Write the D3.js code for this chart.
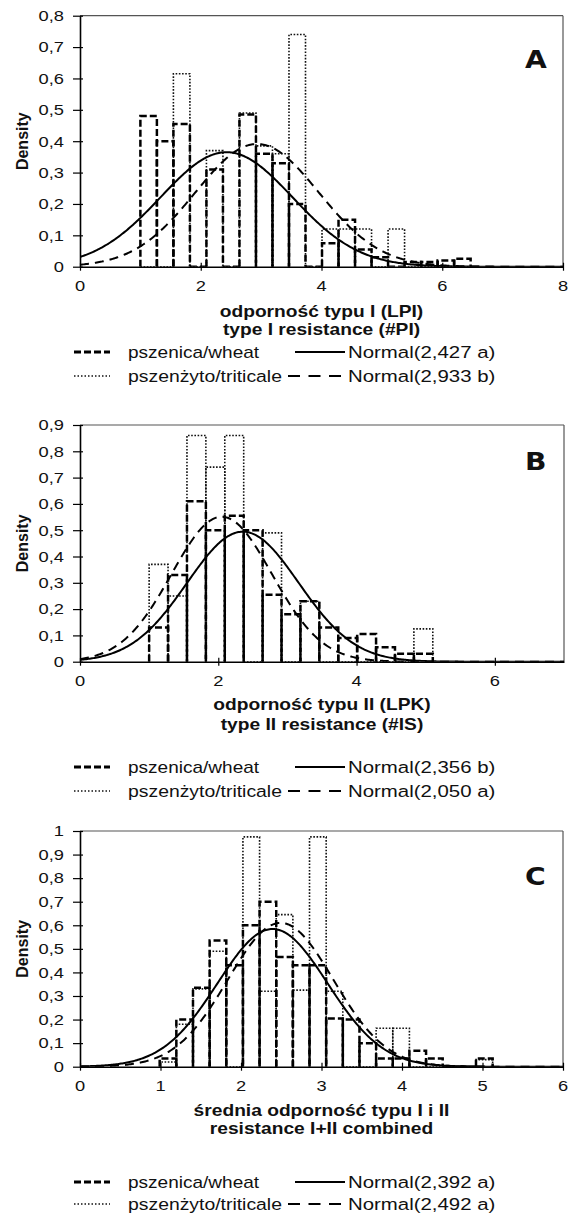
<!DOCTYPE html>
<html><head><meta charset="utf-8">
<script src="https://cdn.jsdelivr.net/npm/d3@7/dist/d3.min.js"></script>
<style>body{margin:0;background:#fff}svg{display:block}</style>
</head><body>
<svg id="chart" width="569" height="1213"></svg>
<script>
// ---------------- DATA ----------------
// Panel A: type I resistance
const aBinStart = 1.0, aBinWidth = 0.2735;
const aWheat = [0.48,0.40,0.455,0,0.31,0,0.485,0.36,0.33,0.20,0,0.075,0.15,0.055,0.03,0,0.015,0.015,0.02,0.025];
const aTriticale = [0,0,0.615,0,0.37,0,0.49,0.385,0.36,0.74,0,0.12,0.12,0.12,0,0.12,0,0,0,0];
const aNormalMean = [2.427, 2.933];   // wheat, triticale
const aNormalSd = [1.093, 1.02];
const aNormalLabels = ["Normal(2,427 a)", "Normal(2,933 b)"];
const aXTicks = [0,2,4,6,8];
const aYTicks = [0,0.1,0.2,0.3,0.4,0.5,0.6,0.7,0.8];
const aTitle = ["odporność typu I (LPI)", "type I resistance (#PI)"];

// Panel B: type II resistance
const bBinStart = 1.0, bBinWidth = 0.2735;
const bWheat = [0.13,0.33,0.61,0.50,0.555,0.50,0.255,0.18,0.23,0.13,0.09,0.105,0.055,0.03,0.03];
const bTriticale = [0.37,0.25,0.86,0.74,0.86,0,0.49,0,0.23,0,0,0,0,0,0.125];
const bNormalMean = [2.356, 2.050];
const bNormalSd = [0.807, 0.724];
const bNormalLabels = ["Normal(2,356 b)", "Normal(2,050 a)"];
const bXTicks = [0,2,4,6];
const bYTicks = [0,0.1,0.2,0.3,0.4,0.5,0.6,0.7,0.8,0.9];
const bTitle = ["odporność typu II (LPK)", "type II resistance (#IS)"];

// Panel C: combined
const cBinStart = 0.99, cBinWidth = 0.2068;
const cWheat = [0.035,0.2,0.335,0.535,0.43,0.60,0.70,0.465,0.43,0.43,0.205,0.2,0.10,0.035,0.035,0.068,0.035,0,0,0.035];
const cTriticale = [0.02,0.18,0.33,0.49,0,0.975,0.32,0.645,0.325,0.975,0.32,0,0,0.163,0.163,0,0,0,0,0.03];
const cNormalMean = [2.392, 2.492];
const cNormalSd = [0.683, 0.654];
const cNormalLabels = ["Normal(2,392 a)", "Normal(2,492 a)"];
const cXTicks = [0,1,2,3,4,5,6];
const cYTicks = [0,0.1,0.2,0.3,0.4,0.5,0.6,0.7,0.8,0.9,1];
const cTitle = ["średnia odporność typu I i II", "resistance I+II combined"];

const seriesLabels = ["pszenica/wheat", "pszenżyto/triticale"];
const yLabel = "Density";

// ---------------- LAYOUT ----------------
const SX = 1.2; // horizontal text stretch of the original picture
const panels = [
  {letter:"A", bins:[aBinStart,aBinWidth], wheat:aWheat, trit:aTriticale, mean:aNormalMean, sd:aNormalSd, nl:aNormalLabels, xt:aXTicks, yt:aYTicks, title:aTitle,
   xMax:8, yMax:0.8, left:80, right:563, top:15.7, bottom:266.7, titleY:[317,335], legY:[358,382], letterY:68},
  {letter:"B", bins:[bBinStart,bBinWidth], wheat:bWheat, trit:bTriticale, mean:bNormalMean, sd:bNormalSd, nl:bNormalLabels, xt:bXTicks, yt:bYTicks, title:bTitle,
   xMax:7, yMax:0.9, left:80, right:564, top:425, bottom:661.7, titleY:[710,730], legY:[773,797], letterY:470},
  {letter:"C", bins:[cBinStart,cBinWidth], wheat:cWheat, trit:cTriticale, mean:cNormalMean, sd:cNormalSd, nl:cNormalLabels, xt:cXTicks, yt:cYTicks, title:cTitle,
   xMax:6, yMax:1, left:80, right:563, top:831, bottom:1066.7, titleY:[1116,1134], legY:[1188,1210], letterY:885}
];

const svg = d3.select("#chart");
const FONT = "'Liberation Sans', Arial, sans-serif";

function stext(g, x, y, str, o) {
  o = o || {};
  return g.append("text")
    .attr("transform", `translate(${x},${y}) scale(${o.sx || SX},1)`)
    .attr("text-anchor", o.anchor || "start")
    .attr("font-family", o.family || FONT)
    .attr("font-size", o.size || 15)
    .attr("font-weight", o.weight || "normal")
    .attr("fill", "#111")
    .text(str);
}
const fmt = d => d === 0 ? "0" : (d === 1 ? "1" : d3.format(".1f")(d).replace(".", ","));

panels.forEach((p, pi) => {
  const g = svg.append("g");
  const x = d3.scaleLinear().domain([0, p.xMax]).range([p.left, p.right]);
  const y = d3.scaleLinear().domain([0, p.yMax]).range([p.bottom, p.top]);
  const clipId = "clip" + pi;
  svg.append("clipPath").attr("id", clipId).append("rect")
    .attr("x", p.left).attr("y", p.top - 2).attr("width", p.right - p.left + 2).attr("height", p.bottom - p.top + 2);

  // frame top/right
  g.append("line").attr("x1", p.left).attr("x2", p.right).attr("y1", p.top).attr("y2", p.top).attr("stroke", "#555").attr("stroke-width", 1.2);
  g.append("line").attr("x1", p.right).attr("x2", p.right).attr("y1", p.top).attr("y2", p.bottom).attr("stroke", "#555").attr("stroke-width", 1.2);

  const plot = g.append("g").attr("clip-path", `url(#${clipId})`);
  const binPath = (i, v) => {
    const x0 = p.bins[0] + i * p.bins[1], x1 = x0 + p.bins[1];
    return `M${x(x0)},${y(0)}V${y(v)}H${x(x1)}V${y(0)}`;
  };
  // triticale histogram (dotted)
  plot.selectAll(".trit").data(p.trit).join("path")
    .attr("d", (v, i) => binPath(i, v))
    .attr("fill", "none").attr("stroke", "#111").attr("stroke-width", 1.6)
    .attr("stroke-dasharray", "1.6,1.6");
  // wheat histogram (dashed)
  plot.selectAll(".wheat").data(p.wheat).join("path")
    .attr("d", (v, i) => binPath(i, v))
    .attr("fill", "none").attr("stroke", "#000").attr("stroke-width", 2.5)
    .attr("stroke-dasharray", "7,3");
  // normal curves (fitted distributions named in the legend)
  const xs = d3.range(0, p.xMax + 1e-9, p.xMax / 400);
  const pdf = (t, m, s) => Math.exp(-0.5 * ((t - m) / s) ** 2) / (s * Math.sqrt(2 * Math.PI));
  const line = d3.line().x(d => x(d[0])).y(d => y(d[1]));
  [0, 1].forEach(k => {
    plot.append("path")
      .attr("d", line(xs.map(t => [t, pdf(t, p.mean[k], p.sd[k])])))
      .attr("fill", "none").attr("stroke", "#000").attr("stroke-width", 2)
      .attr("stroke-dasharray", k === 0 ? null : "9,6");
  });

  // axes
  const ya = g.append("g").attr("transform", `translate(${p.left},0)`)
    .call(d3.axisLeft(y).tickValues(p.yt).tickSizeOuter(0).tickSizeInner(7).tickFormat(""));
  ya.selectAll(".tick line").attr("x1", 3).attr("stroke", "#000").attr("stroke-width", 1.2);
  ya.select(".domain").attr("stroke", "#000").attr("stroke-width", 1.6);
  const xa = g.append("g").attr("transform", `translate(0,${p.bottom})`)
    .call(d3.axisBottom(x).tickValues(p.xt).tickSizeOuter(0).tickSizeInner(4).tickFormat(""));
  xa.selectAll(".tick line").attr("y1", -4).attr("stroke", "#000").attr("stroke-width", 1.2);
  xa.select(".domain").attr("stroke", "#000").attr("stroke-width", 1.6);

  p.yt.forEach(v => stext(g, 64, y(v) + 5.3, fmt(v), {anchor: "end", size: 15, sx: 1.22}));
  p.xt.forEach(v => stext(g, x(v), p.bottom + 24.5, String(v), {anchor: "middle", size: 15, sx: 1.22}));

  // y label
  g.append("text")
    .attr("transform", `translate(28,${(p.top + p.bottom) / 2}) rotate(-90)`)
    .attr("text-anchor", "middle").attr("font-family", FONT).attr("font-size", 16)
    .attr("font-weight", "bold").attr("fill", "#111").text(yLabel);

  // x title
  const cx = (p.left + p.right) / 2;
  stext(g, cx, p.titleY[0], p.title[0], {anchor: "middle", size: 16, weight: "bold", sx: 1.2});
  stext(g, cx, p.titleY[1], p.title[1], {anchor: "middle", size: 16, weight: "bold", sx: 1.2});

  // panel letter
  stext(g, 525, p.letterY, p.letter, {size: 24.5, weight: "bold", family: "'DejaVu Sans', sans-serif", sx: 1.15});

  // legend
  const L = g.append("g");
  const r1 = p.legY[0] - 6, r2 = p.legY[1] - 6;
  L.append("line").attr("x1", 74).attr("x2", 110).attr("y1", r1).attr("y2", r1)
    .attr("stroke", "#000").attr("stroke-width", 3).attr("stroke-dasharray", "7,3");
  L.append("line").attr("x1", 74).attr("x2", 110).attr("y1", r2).attr("y2", r2)
    .attr("stroke", "#111").attr("stroke-width", 1.5).attr("stroke-dasharray", "1.5,2");
  L.append("line").attr("x1", 295).attr("x2", 345).attr("y1", r1).attr("y2", r1)
    .attr("stroke", "#000").attr("stroke-width", 2);
  L.append("line").attr("x1", 288).attr("x2", 345).attr("y1", r2).attr("y2", r2)
    .attr("stroke", "#000").attr("stroke-width", 2.2).attr("stroke-dasharray", "12,8.5");
  stext(L, 128, p.legY[0], seriesLabels[0], {size: 17, sx: 1.12});
  stext(L, 128, p.legY[1], seriesLabels[1], {size: 17, sx: 1.14});
  stext(L, 348, p.legY[0], p.nl[0], {size: 17, sx: 1.2});
  stext(L, 348, p.legY[1], p.nl[1], {size: 17, sx: 1.2});
});
</script>
</body></html>
